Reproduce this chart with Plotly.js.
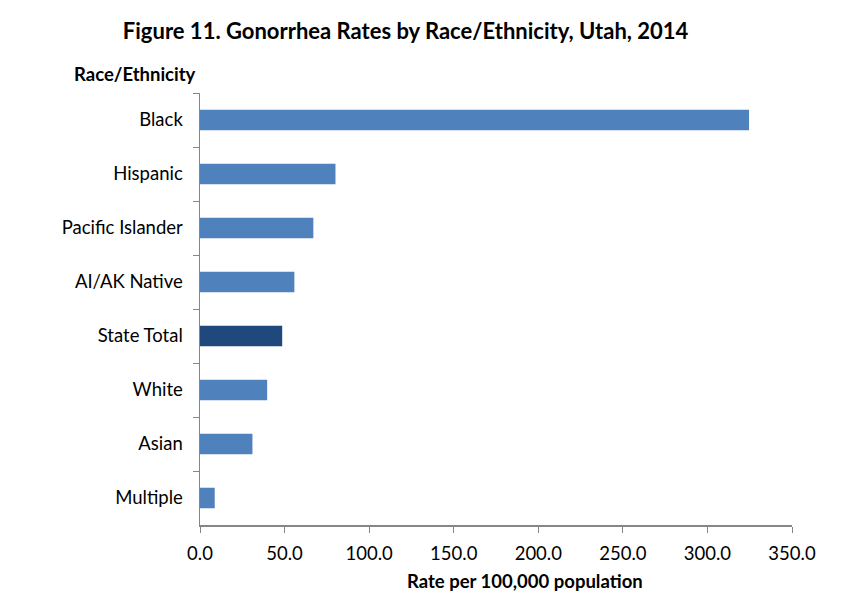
<!DOCTYPE html>
<html>
<head>
<meta charset="utf-8">
<script src="https://cdn.plot.ly/plotly-3.0.1.min.js"></script>
<style>html,body{margin:0;padding:0;background:#fff;}#chart{width:863px;height:597px;}</style>
</head>
<body>
<div id="chart"></div>
<script>
const categories = ["Black", "Hispanic", "Pacific Islander", "AI/AK Native", "State Total", "White", "Asian", "Multiple"];
const rates = [324.6, 80.1, 67.0, 55.8, 48.6, 39.7, 31.0, 8.7];
const barColors = ["#4F81BD", "#4F81BD", "#4F81BD", "#4F81BD", "#1F497D", "#4F81BD", "#4F81BD", "#4F81BD"];
const xTickVals = [0, 50, 100, 150, 200, 250, 300, 350];
const xTickText = ["0.0", "50.0", "100.0", "150.0", "200.0", "250.0", "300.0", "350.0"];

const font = "Lato, 'Open Sans', sans-serif";

const trace = {
  type: "bar",
  orientation: "h",
  y: categories,
  x: rates,
  marker: { color: barColors },
  width: 0.38,
  hoverinfo: "x+y"
};

const layout = {
  width: 863,
  height: 597,
  margin: { l: 200, r: 71, t: 93, b: 72 },
  paper_bgcolor: "#ffffff",
  plot_bgcolor: "#ffffff",
  showlegend: false,
  font: { family: font, size: 18.5, color: "#000000" },
  title: {
    text: "<b>Figure 11. Gonorrhea Rates by Race/Ethnicity, Utah, 2014</b>",
    font: { family: font, size: 22, color: "#000000" },
    x: 0.47, xanchor: "center",
    y: 0.948, yanchor: "middle", yref: "container"
  },
  xaxis: {
    range: [0, 350],
    tickvals: xTickVals,
    ticktext: xTickText,
    showgrid: false,
    zeroline: false,
    showline: true,
    linecolor: "#868686",
    linewidth: 1.5,
    ticks: "outside",
    ticklen: 6,
    tickcolor: "#868686",
    ticklabelstandoff: 5,
    tickfont: { family: font, size: 18.5, color: "#000000" },
    fixedrange: true
  },
  yaxis: {
    type: "category",
    categoryorder: "array",
    categoryarray: categories,
    autorange: "reversed",
    showgrid: false,
    zeroline: false,
    showline: true,
    linecolor: "#868686",
    linewidth: 1.5,
    ticks: "outside",
    tickson: "boundaries",
    ticklen: 6,
    tickcolor: "#868686",
    ticklabelstandoff: 12,
    tickfont: { family: font, size: 18.5, color: "#000000" },
    fixedrange: true
  },
  annotations: [{
    text: "<b>Race/Ethnicity</b>",
    xref: "paper", yref: "paper",
    x: -0.216, xanchor: "left",
    y: 1, yanchor: "bottom", yshift: 6,
    showarrow: false,
    font: { family: font, size: 18.5, color: "#000000" }
  }, {
    text: "<b>Rate per 100,000 population</b>",
    xref: "paper", yref: "paper",
    x: 0.549, xanchor: "center",
    y: 0, yanchor: "middle", yshift: -56,
    showarrow: false,
    font: { family: font, size: 18.5, color: "#000000" }
  }],
  bargap: 0.62
};

Plotly.newPlot("chart", [trace], layout, { displayModeBar: false, staticPlot: true });
</script>
</body>
</html>
